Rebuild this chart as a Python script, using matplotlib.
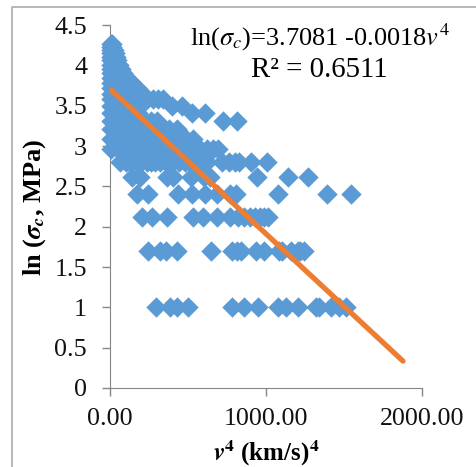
import matplotlib
matplotlib.use('Agg')
import matplotlib.pyplot as plt
from matplotlib.lines import Line2D

plt.rcParams['font.family'] = ['Liberation Serif', 'DejaVu Serif']
plt.rcParams['mathtext.fontset'] = 'stix'

# strength levels (ln of sigma_c) and the v^4 values read at each level
levels = [4.27, 4.23, 4.19, 4.15, 4.10, 4.06, 4.00, 3.96, 3.90, 3.84, 3.78, 3.72, 3.65,
          3.58, 3.50, 3.41, 3.31, 3.21, 3.09, 2.96, 2.80, 2.62, 2.40, 2.12, 1.70, 1.01]
v4_rows = [
    [5, 10],
    [8, 15],
    [5, 15, 25],
    [5, 20, 30],
    [5, 15, 30, 40],
    [5, 10, 25, 45],
    [5, 20, 40, 55],
    [5, 25, 50, 70],
    [5, 30, 60, 85],
    [5, 30, 60, 90, 110],
    [5, 40, 80, 120, 140],
    [5, 40, 90, 130, 170],
    [5, 50, 100, 160, 210],
    [5, 40, 80, 120, 160, 200, 240, 275, 310, 340],
    [5, 40, 80, 120, 150, 190, 400, 460],
    [5, 30, 60, 90, 120, 150, 180, 525, 610],
    [5, 30, 60, 100, 140, 180, 220, 260, 300, 725, 815],
    [5, 30, 60, 100, 140, 180, 220, 260, 300, 340, 380, 430],
    [5, 40, 80, 120, 160, 200, 240, 280, 320, 360, 400, 440, 490, 530],
    [8, 50, 90, 130, 170, 210, 250, 290, 330, 370, 410, 450, 490, 540, 580, 620, 660, 690],
    [64, 100, 130, 170, 200, 235, 260, 290, 320, 360, 400, 440, 480, 515, 550, 585, 620, 720, 760, 800, 830, 905, 1006],
    [141, 192, 365, 404, 520, 600, 641, 942, 1141, 1269],
    [173, 244, 436, 526, 609, 686, 769, 808, 1077, 1391, 1545],
    [205, 269, 365, 532, 596, 686, 769, 820, 860, 900, 930, 960, 990, 1015],
    [244, 320, 359, 430, 647, 782, 814, 840, 936, 987, 1083, 1100, 1160, 1205, 1220, 1244],
    [295, 385, 430, 500, 782, 859, 949, 1077, 1128, 1205, 1320, 1340, 1417, 1468, 1513],
]
trend_x = [10, 1878]
trend_y = [3.69, 0.334]

x_ticks = [0, 1000, 2000]
x_ticklabels = ['0.00', '1000.00', '2000.00']
y_ticks = [0, 0.5, 1, 1.5, 2, 2.5, 3, 3.5, 4, 4.5]
y_ticklabels = ['0', '0.5', '1', '1.5', '2', '2.5', '3', '3.5', '4', '4.5']

W, H = 476, 467
fig = plt.figure(figsize=(W / 100, H / 100), dpi=100)
ax = fig.add_axes([110 / W, 1 - 388 / H, 312 / W, 363 / H])

# 图外框
fig.add_artist(Line2D([12 / W, 12 / W, 1], [0, 1 - 6.5 / H, 1 - 6.5 / H], color='#ababab', lw=1.2))

for y, xs in zip(levels, v4_rows):
    ax.scatter(xs, [y] * len(xs), marker='D', s=108, color='#5B9BD5', linewidths=0, clip_on=False, zorder=3)
ax.plot(trend_x, trend_y, color='#ED7D31', lw=3.8, solid_capstyle='round', clip_on=False, zorder=4)

ax.set_xlim(0, 2000)
ax.set_ylim(0, 4.5)
ax.set_xticks(x_ticks)
ax.set_xticklabels(x_ticklabels)
ax.set_yticks(y_ticks)
ax.set_yticklabels(y_ticklabels)
ax.tick_params(length=5.5, width=1, color='#868686', labelsize=18.7, labelcolor='#111111')
ax.tick_params(axis='x', pad=9)
ax.tick_params(axis='y', pad=11)
ax.spines['top'].set_visible(False)
ax.spines['right'].set_visible(False)
ax.spines['left'].set_color('#868686')
ax.spines['bottom'].set_color('#868686')

fig.text(320 / W, 1 - 37 / H, r'ln($\sigma_c$)=3.7081 -0.0018$v^4$', fontsize=19, ha='center', va='center')
fig.text(319 / W, 1 - 70 / H, 'R² = 0.6511', fontsize=20.8, ha='center', va='center')
fig.text(35 / W, 1 - 207 / H, r'ln ($\mathbfit{\sigma_c}$, MPa)', fontsize=19, fontweight='bold',
         rotation=90, ha='center', va='center')
fig.text(266 / W, 1 - 453 / H, r'$\mathbfit{v}^{\mathbf{4}}$ (km/s)$^{\mathbf{4}}$', fontsize=18, fontweight='bold',
         ha='center', va='center')

fig.savefig('out.png', dpi=100)
